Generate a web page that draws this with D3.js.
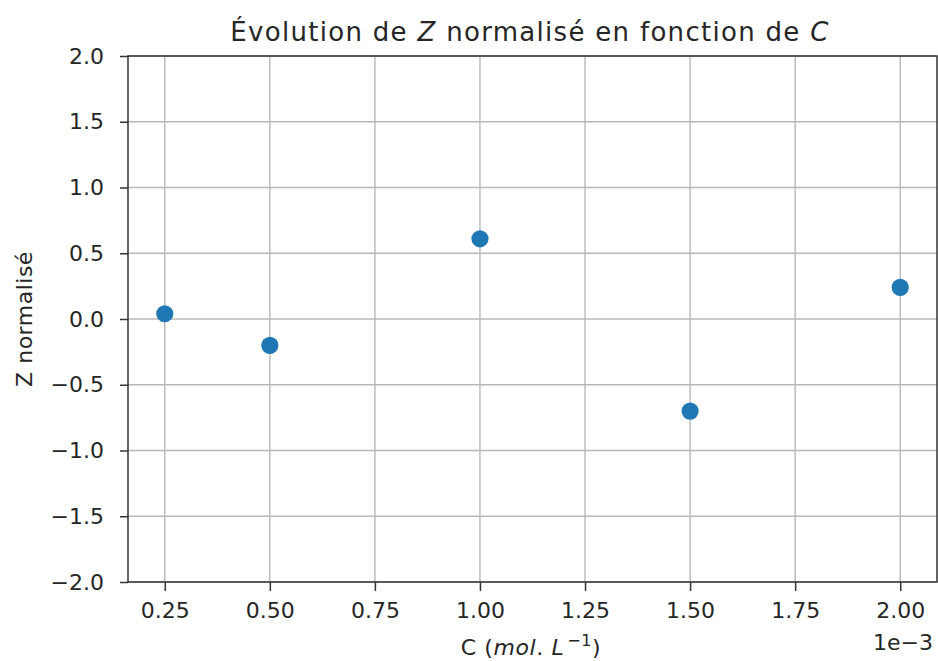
<!DOCTYPE html>
<html>
<head>
<meta charset="utf-8">
<script src="https://cdn.jsdelivr.net/npm/d3@7"></script>
<style>
  body { margin: 0; background: #fff; }
  svg { font-family: "DejaVu Sans", sans-serif; }
</style>
</head>
<body>
<svg id="chart" width="938" height="661"></svg>
<script>
'use strict'

// concentrations (x1e-3 mol/L) and normalised Z
const concentrations = [0.25, 0.5, 1.0, 1.5, 2.0]
const zNormalise = [0.04, -0.2, 0.61, -0.7, 0.24]
const xTicks = [0.25, 0.5, 0.75, 1.0, 1.25, 1.5, 1.75, 2.0]
const yTicks = [-2.0, -1.5, -1.0, -0.5, 0.0, 0.5, 1.0, 1.5, 2.0]

const margin = { left: 128, right: 1, top: 56, bottom: 79 }
const width = 938, height = 661
const textColor = '#262626'

const svg = d3.select('#chart')

const x = d3.scaleLinear()
  .domain([0.1625, 2.0875])
  .range([margin.left, width - margin.right])
const y = d3.scaleLinear()
  .domain([-2, 2])
  .range([height - margin.bottom, margin.top])

// grid
const grid = svg.append('g').attr('class', 'grid')
grid.selectAll('line.gx').data(xTicks).enter().append('line')
  .attr('x1', d => x(d)).attr('x2', d => x(d))
  .attr('y1', y(-2)).attr('y2', y(2))
  .attr('stroke', '#b8b8b8').attr('stroke-width', 1.4)
grid.selectAll('line.gy').data(yTicks).enter().append('line')
  .attr('y1', d => y(d)).attr('y2', d => y(d))
  .attr('x1', x.range()[0]).attr('x2', x.range()[1])
  .attr('stroke', '#b8b8b8').attr('stroke-width', 1.4)

// axes
const fmtX = d3.format('.2f')
const fmtY = d => d3.format('.1f')(d).replace('-', '\u2212')

const xAxis = svg.append('g')
  .attr('transform', `translate(0,${y(-2)})`)
  .call(d3.axisBottom(x).tickValues(xTicks).tickFormat(fmtX).tickSize(9).tickPadding(11))
const yAxis = svg.append('g')
  .attr('transform', `translate(${x.range()[0]},0)`)
  .call(d3.axisLeft(y).tickValues(yTicks).tickFormat(fmtY).tickSize(8).tickPadding(16))

;[xAxis, yAxis].forEach(a => {
  a.select('.domain').remove()
  a.selectAll('.tick line').attr('stroke', '#333').attr('stroke-width', 1.5)
  a.selectAll('.tick text')
    .attr('fill', textColor)
    .style('font-size', '22px')
    .style('font-family', '"DejaVu Sans", sans-serif')
})

// frame
svg.append('rect')
  .attr('x', x.range()[0]).attr('y', y(2))
  .attr('width', x.range()[1] - x.range()[0])
  .attr('height', y(-2) - y(2))
  .attr('fill', 'none').attr('stroke', '#333').attr('stroke-width', 1.5)

// points
svg.append('g').selectAll('circle')
  .data(concentrations.map((c, i) => ({ c, z: zNormalise[i] })))
  .enter().append('circle')
  .attr('cx', d => x(d.c))
  .attr('cy', d => y(d.z))
  .attr('r', 8.6)
  .attr('fill', '#1f77b4')

// title
const title = svg.append('text')
  .attr('x', 530)
  .attr('y', 40.5)
  .attr('text-anchor', 'middle')
  .attr('fill', textColor)
  .style('font-size', '26px')
  .style('letter-spacing', '1.3px')
title.append('tspan').text('\u00c9volution de ')
title.append('tspan').attr('font-style', 'italic').text('Z')
title.append('tspan').text(' normalisé en fonction de ')
title.append('tspan').attr('font-style', 'italic').text('C')

// x label
const xl = svg.append('text')
  .attr('x', 531)
  .attr('y', 655)
  .attr('text-anchor', 'middle')
  .attr('fill', textColor)
  .style('font-size', '22px')
  .style('letter-spacing', '0.6px')
xl.append('tspan').text('C (')
xl.append('tspan').attr('font-style', 'italic').text('mol')
xl.append('tspan').text('. ')
xl.append('tspan').attr('font-style', 'italic').text('L')
xl.append('tspan').attr('dy', -9).attr('dx', 3).style('font-size', '16px').text('\u22121')
xl.append('tspan').attr('dy', 9).text(')')

// offset text
svg.append('text')
  .attr('x', 933)
  .attr('y', 650)
  .attr('text-anchor', 'end')
  .attr('fill', textColor)
  .style('font-size', '22px')
  .text('1e\u22123')

// y label
svg.append('text')
  .attr('transform', `translate(32,319) rotate(-90)`)
  .attr('text-anchor', 'middle')
  .attr('fill', textColor)
  .style('font-size', '22px')
  .style('letter-spacing', '0.5px')
  .text('Z normalisé')
</script>
</body>
</html>
